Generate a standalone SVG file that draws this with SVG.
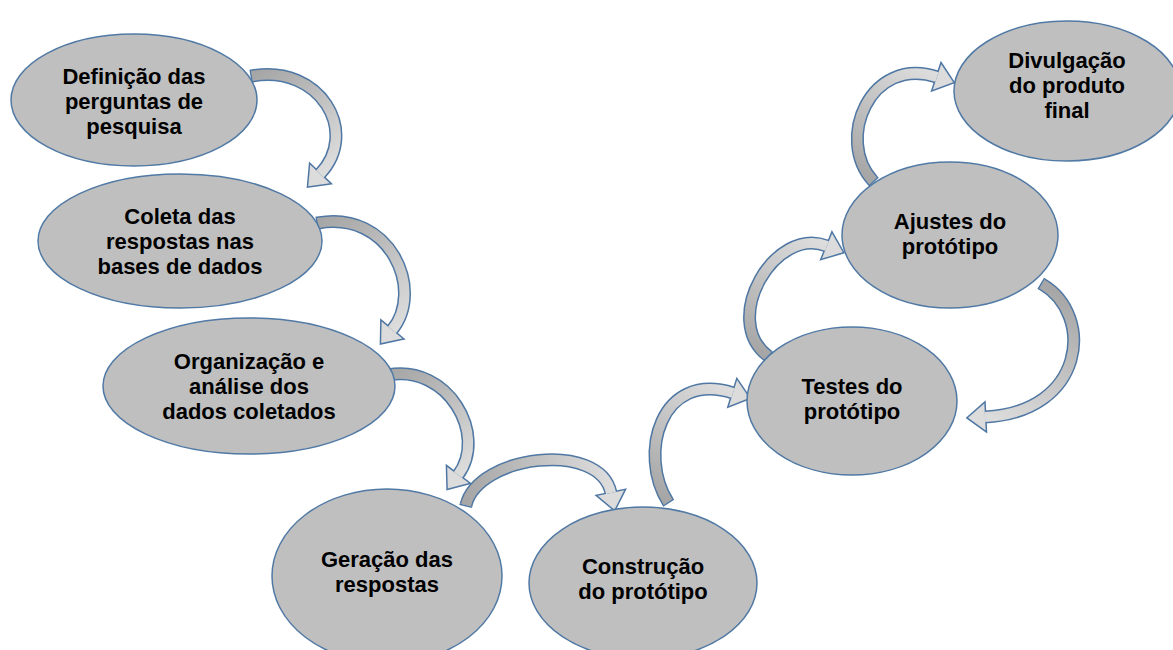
<svg xmlns="http://www.w3.org/2000/svg" width="1173" height="650" viewBox="0 0 1173 650">
<style>
.node ellipse{fill:#bfbfbf;stroke:#5079a5;stroke-width:1.5}
.node text{font-family:"Liberation Sans",Arial,sans-serif;font-weight:bold;font-size:22px;fill:#000;text-anchor:middle}
.ol{fill:none;stroke:#4f77a3;stroke-width:13;marker-start:url(#tO);marker-end:url(#hO)}
.fl{fill:none;stroke-width:10;marker-end:url(#hF)}
</style>
<defs>
<linearGradient id="gb"><stop offset="0" stop-color="#a6a6a6"/><stop offset="1" stop-color="#dcdcdc"/></linearGradient>
<linearGradient id="g1" href="#gb" gradientUnits="userSpaceOnUse" x1="252" y1="76" x2="320" y2="174"/>
<linearGradient id="g2" href="#gb" gradientUnits="userSpaceOnUse" x1="318" y1="223" x2="392" y2="330"/>
<linearGradient id="g3" href="#gb" gradientUnits="userSpaceOnUse" x1="388" y1="375" x2="458" y2="475"/>
<linearGradient id="g4" href="#gb" gradientUnits="userSpaceOnUse" x1="466" y1="505" x2="611" y2="493"/>
<linearGradient id="g5" href="#gb" gradientUnits="userSpaceOnUse" x1="668" y1="502" x2="733" y2="393"/>
<linearGradient id="g6" href="#gb" gradientUnits="userSpaceOnUse" x1="768" y1="356" x2="827" y2="246"/>
<linearGradient id="g7" href="#gb" gradientUnits="userSpaceOnUse" x1="1042" y1="284" x2="985" y2="417"/>
<linearGradient id="g8" href="#gb" gradientUnits="userSpaceOnUse" x1="873" y1="181" x2="937" y2="77"/>
<marker id="hO" markerUnits="userSpaceOnUse" orient="auto" markerWidth="40" markerHeight="40" refX="0" refY="0" overflow="visible"><polygon points="0,-13.5 17,0 0,13.5" fill="#4f77a3" stroke="#4f77a3" stroke-width="3"/></marker>
<marker id="hF" markerUnits="userSpaceOnUse" orient="auto" markerWidth="40" markerHeight="40" refX="0" refY="0" overflow="visible"><polygon points="0,-13.5 17,0 0,13.5" fill="#dcdcdc"/></marker>
<marker id="tO" markerUnits="userSpaceOnUse" orient="auto" markerWidth="10" markerHeight="20" refX="0" refY="0" overflow="visible"><rect x="-1.5" y="-6.5" width="1.6" height="13" fill="#4f77a3"/></marker>
</defs>
<g id="connectors">
<g id="outlines">
<path class="ol" d="M252,76 C320,64 360,132 320,174"/>
<path class="ol" d="M318,223 C390,210 425,290 392,330"/>
<path class="ol" d="M388,375 C448,364 488,435 458,475"/>
<path class="ol" d="M466,505 C478,455 600,440 611,493"/>
<path class="ol" d="M668,502 C638,455 660,370 733,393"/>
<path class="ol" d="M768,356 C720,320 775,225 827,246"/>
<path class="ol" d="M1042,284 C1095,315 1085,412 985,417"/>
<path class="ol" d="M873,181 C835,140 870,55 937,77"/>
</g>
<g id="fills">
<path class="fl" stroke="url(#g1)" d="M252,76 C320,64 360,132 320,174"/>
<path class="fl" stroke="url(#g2)" d="M318,223 C390,210 425,290 392,330"/>
<path class="fl" stroke="url(#g3)" d="M388,375 C448,364 488,435 458,475"/>
<path class="fl" stroke="url(#g4)" d="M466,505 C478,455 600,440 611,493"/>
<path class="fl" stroke="url(#g5)" d="M668,502 C638,455 660,370 733,393"/>
<path class="fl" stroke="url(#g6)" d="M768,356 C720,320 775,225 827,246"/>
<path class="fl" stroke="url(#g7)" d="M1042,284 C1095,315 1085,412 985,417"/>
<path class="fl" stroke="url(#g8)" d="M873,181 C835,140 870,55 937,77"/>
</g>
</g>
<g id="n1" class="node"><ellipse cx="134" cy="100" rx="123" ry="66"/><text x="134" y="84">Definição das</text><text x="134" y="109">perguntas de</text><text x="134" y="134">pesquisa</text></g>
<g id="n2" class="node"><ellipse cx="180" cy="241" rx="142" ry="67"/><text x="180" y="224">Coleta das</text><text x="180" y="249">respostas nas</text><text x="180" y="274">bases de dados</text></g>
<g id="n3" class="node"><ellipse cx="249" cy="386" rx="146" ry="68"/><text x="249" y="369">Organização e</text><text x="249" y="394">análise dos</text><text x="249" y="419">dados coletados</text></g>
<g id="n4" class="node"><ellipse cx="387" cy="576" rx="115" ry="87"/><text x="387" y="567">Geração das</text><text x="387" y="592">respostas</text></g>
<g id="n5" class="node"><ellipse cx="643" cy="583" rx="114" ry="76"/><text x="643" y="574">Construção</text><text x="643" y="599">do protótipo</text></g>
<g id="n6" class="node"><ellipse cx="852" cy="401" rx="105" ry="74"/><text x="852" y="394">Testes do</text><text x="852" y="419">protótipo</text></g>
<g id="n7" class="node"><ellipse cx="950" cy="235" rx="108" ry="73"/><text x="950" y="229">Ajustes do</text><text x="950" y="254">protótipo</text></g>
<g id="n8" class="node"><ellipse cx="1067" cy="91" rx="113" ry="70"/><text x="1067" y="68">Divulgação</text><text x="1067" y="93">do produto</text><text x="1067" y="118">final</text></g>
</svg>
